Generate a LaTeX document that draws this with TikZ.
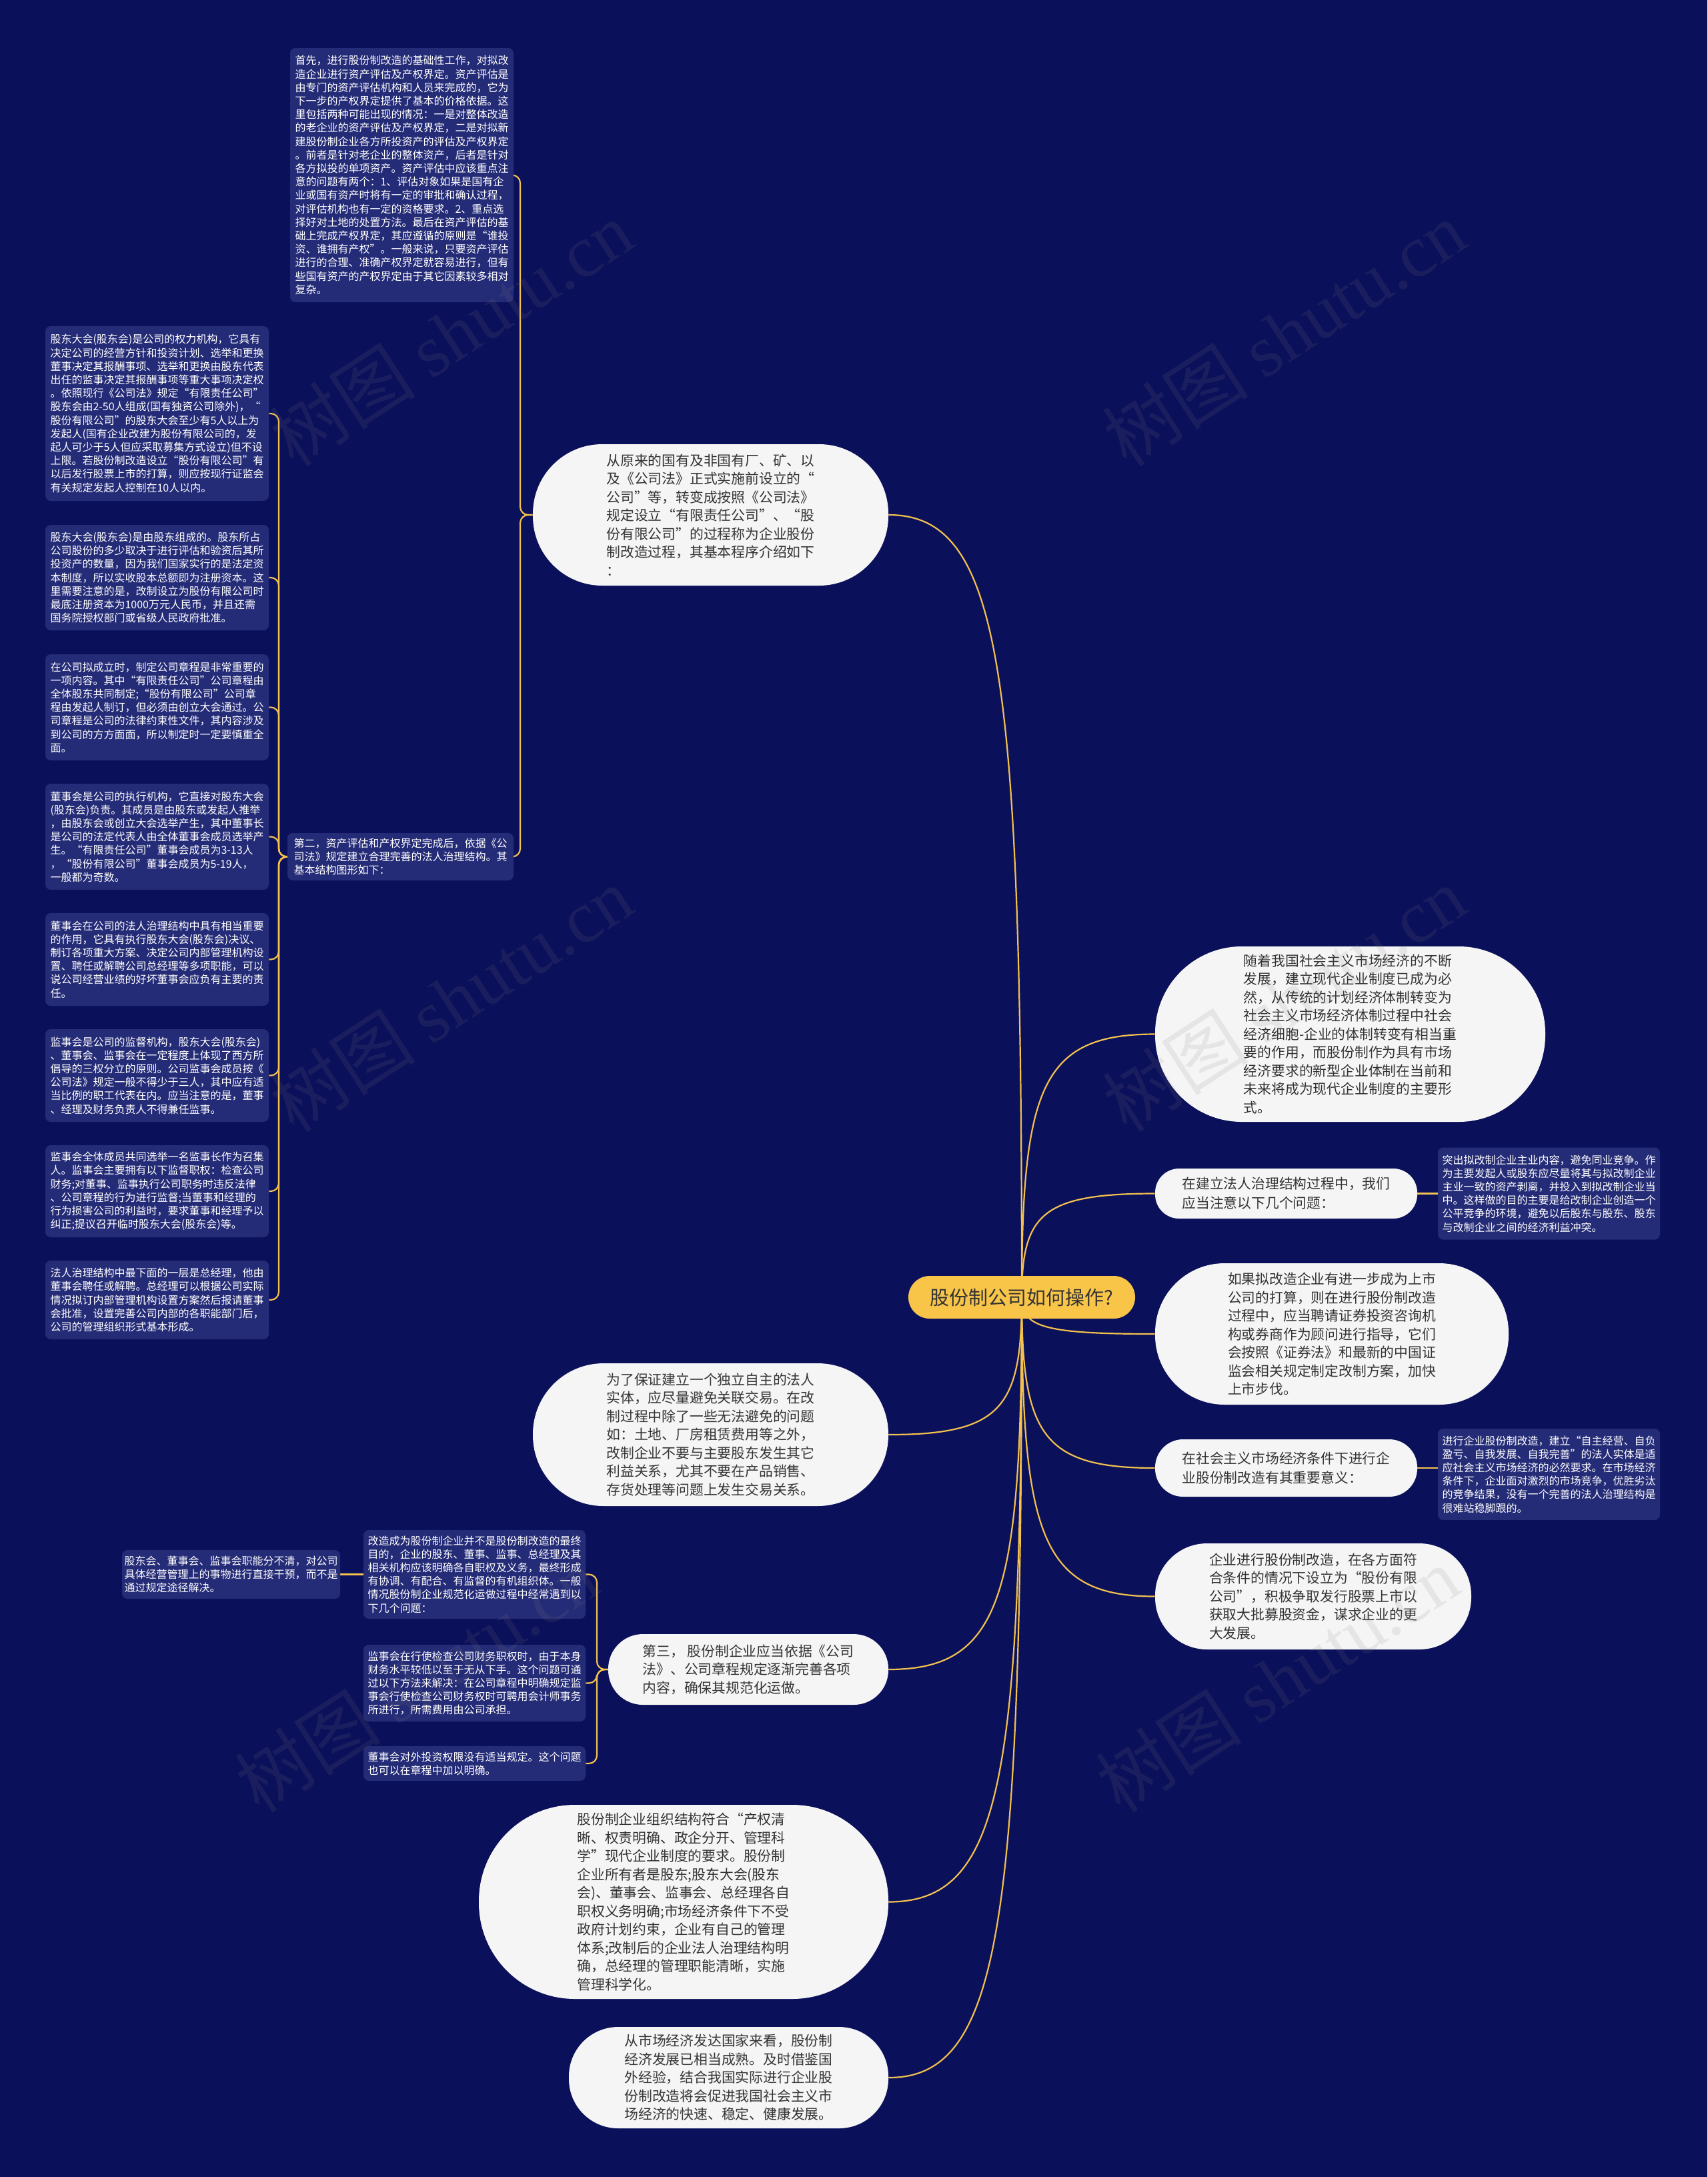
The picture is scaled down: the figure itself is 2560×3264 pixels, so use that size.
\documentclass[tikz,border=0pt]{standalone}
\usepackage{fontspec}
\setmainfont{Noto Sans CJK SC}
\newfontfamily\wmlatin{Liberation Serif}
\usetikzlibrary{calc}
\definecolor{bgc}{HTML}{0B105A}
\definecolor{boxc}{HTML}{252C77}
\definecolor{gold}{HTML}{F2C14E}
\definecolor{rootc}{HTML}{F8C549}
\definecolor{pillc}{HTML}{F5F5F5}
\definecolor{inkc}{HTML}{333333}
\pgfdeclarelayer{bg}
\pgfsetlayers{bg,main}
\begin{document}
\begin{tikzpicture}[x={(0.5pt,0)}, y={(0,-0.5pt)},
  dbox/.style={fill=boxc, rounded corners=4pt, text=white, align=left, inner sep=0pt,
    minimum width=167pt, font=\fontsize{8pt}{10.1pt}\selectfont},
  pill/.style={fill=pillc, text=inkc, align=left, inner sep=0pt,
    font=\fontsize{10.4pt}{13.75pt}\selectfont},
  conn/.style={draw=gold, line width=1.1pt},
  brace/.style={draw=gold, line width=1.1pt, rounded corners=6pt},
  wm/.style={text=gray, opacity=0.13, font=\fontsize{55pt}{60pt}\selectfont, rotate=33}]

\useasboundingbox (0,0) rectangle (2560,3264);

% ---------- root ----------
\node[fill=rootc, text=inkc, rounded corners=16pt, minimum width=170pt, minimum height=32pt,
  inner sep=0pt, font=\fontsize{14.5pt}{16pt}\selectfont] (root) at (1532,1945) {股份制公司如何操作?};

% ---------- right side ----------
\node[pill, minimum width=292.5pt, minimum height=131.5pt, rounded corners=65pt] (r1) at (2024.5,1550.5)
{随着我国社会主义市场经济的不断\\发展，建立现代企业制度已成为必\\然，从传统的计划经济体制转变为\\社会主义市场经济体制过程中社会\\经济细胞-企业的体制转变有相当重\\要的作用，而股份制作为具有市场\\经济要求的新型企业体制在当前和\\未来将成为现代企业制度的主要形\\式。};

\node[pill, minimum width=196.5pt, minimum height=37.5pt, rounded corners=18pt,
  font=\fontsize{10.4pt}{14.5pt}\selectfont] (r2) at (1928.5,1789.5)
{在建立法人治理结构过程中，我们\\应当注意以下几个问题：};

\node[dbox, minimum width=166.5pt, minimum height=69pt] (r2c) at (2322.5,1789.5)
{突出拟改制企业主业内容，避免同业竞争。作\\为主要发起人或股东应尽量将其与拟改制企业\\主业一致的资产剥离，并投入到拟改制企业当\\中。这样做的目的主要是给改制企业创造一个\\公平竞争的环境，避免以后股东与股东、股东\\与改制企业之间的经济利益冲突。};

\node[pill, minimum width=265pt, minimum height=106pt, rounded corners=52pt] (r3) at (1997,2000)
{如果拟改造企业有进一步成为上市\\公司的打算，则在进行股份制改造\\过程中，应当聘请证券投资咨询机\\构或券商作为顾问进行指导，它们\\会按照《证券法》和最新的中国证\\监会相关规定制定改制方案，加快\\上市步伐。};

\node[pill, minimum width=196.5pt, minimum height=43pt, rounded corners=21pt,
  font=\fontsize{10.4pt}{14.5pt}\selectfont] (r4) at (1928.5,2201)
{在社会主义市场经济条件下进行企\\业股份制改造有其重要意义：};

\node[dbox, minimum width=166.5pt, minimum height=68.5pt] (r4c) at (2322.5,2210.5)
{进行企业股份制改造，建立“自主经营、自负\\盈亏、自我发展、自我完善”的法人实体是适\\应社会主义市场经济的必然要求。在市场经济\\条件下，企业面对激烈的市场竞争，优胜劣汰\\的竞争结果，没有一个完善的法人治理结构是\\很难站稳脚跟的。};

\node[pill, minimum width=237pt, minimum height=79.5pt, rounded corners=39pt] (r5) at (1969,2393.5)
{企业进行股份制改造，在各方面符\\合条件的情况下设立为“股份有限\\公司”，积极争取发行股票上市以\\获取大批募股资金，谋求企业的更\\大发展。};

% ---------- left side ----------
\node[pill, minimum width=266.5pt, minimum height=106pt, rounded corners=52pt] (l1) at (1065.5,772)
{从原来的国有及非国有厂、矿、以\\及《公司法》正式实施前设立的“\\公司”等，转变成按照《公司法》\\规定设立“有限责任公司”、“股\\份有限公司”的过程称为企业股份\\制改造过程，其基本程序介绍如下\\：};

\node[dbox, minimum width=167.5pt, minimum height=190.5pt] (t1) at (602.5,262.5)
{首先，进行股份制改造的基础性工作，对拟改\\造企业进行资产评估及产权界定。资产评估是\\由专门的资产评估机构和人员来完成的，它为\\下一步的产权界定提供了基本的价格依据。这\\里包括两种可能出现的情况：一是对整体改造\\的老企业的资产评估及产权界定，二是对拟新\\建股份制企业各方所投资产的评估及产权界定\\。前者是针对老企业的整体资产，后者是针对\\各方拟投的单项资产。资产评估中应该重点注\\意的问题有两个：1、评估对象如果是国有企\\业或国有资产时将有一定的审批和确认过程，\\对评估机构也有一定的资格要求。2、重点选\\择好对土地的处置方法。最后在资产评估的基\\础上完成产权界定，其应遵循的原则是“谁投\\资、谁拥有产权”。一般来说，只要资产评估\\进行的合理、准确产权界定就容易进行，但有\\些国有资产的产权界定由于其它因素较多相对\\复杂。};

\node[dbox, minimum width=169.5pt, minimum height=35.5pt] (t2) at (600.5,1284.5)
{第二，资产评估和产权界定完成后，依据《公\\司法》规定建立合理完善的法人治理结构。其\\基本结构图形如下：};

\node[dbox, minimum width=167.5pt, minimum height=131pt] (b1) at (235.5,620)
{股东大会(股东会)是公司的权力机构，它具有\\决定公司的经营方针和投资计划、选举和更换\\董事决定其报酬事项、选举和更换由股东代表\\出任的监事决定其报酬事项等重大事项决定权\\。依照现行《公司法》规定“有限责任公司”\\股东会由2-50人组成(国有独资公司除外)，“\\股份有限公司”的股东大会至少有5人以上为\\发起人(国有企业改建为股份有限公司的，发\\起人可少于5人但应采取募集方式设立)但不设\\上限。若股份制改造设立“股份有限公司”有\\以后发行股票上市的打算，则应按现行证监会\\有关规定发起人控制在10人以内。};

\node[dbox, minimum width=167.5pt, minimum height=79pt] (b2) at (235.5,866)
{股东大会(股东会)是由股东组成的。股东所占\\公司股份的多少取决于进行评估和验资后其所\\投资产的数量，因为我们国家实行的是法定资\\本制度，所以实收股本总额即为注册资本。这\\里需要注意的是，改制设立为股份有限公司时\\最底注册资本为1000万元人民币，并且还需\\国务院授权部门或省级人民政府批准。};

\node[dbox, minimum width=167.5pt, minimum height=79.5pt] (b3) at (235.5,1060.5)
{在公司拟成立时，制定公司章程是非常重要的\\一项内容。其中“有限责任公司”公司章程由\\全体股东共同制定;“股份有限公司”公司章\\程由发起人制订，但必须由创立大会通过。公\\司章程是公司的法律约束性文件，其内容涉及\\到公司的方方面面，所以制定时一定要慎重全\\面。};

\node[dbox, minimum width=167.5pt, minimum height=79.5pt] (b4) at (235.5,1254.5)
{董事会是公司的执行机构，它直接对股东大会\\(股东会)负责。其成员是由股东或发起人推举\\，由股东会或创立大会选举产生，其中董事长\\是公司的法定代表人由全体董事会成员选举产\\生。“有限责任公司”董事会成员为3-13人\\，“股份有限公司”董事会成员为5-19人，\\一般都为奇数。};

\node[dbox, minimum width=167.5pt, minimum height=69.5pt] (b5) at (235.5,1438.5)
{董事会在公司的法人治理结构中具有相当重要\\的作用，它具有执行股东大会(股东会)决议、\\制订各项重大方案、决定公司内部管理机构设\\置、聘任或解聘公司总经理等多项职能，可以\\说公司经营业绩的好坏董事会应负有主要的责\\任。};

\node[dbox, minimum width=167.5pt, minimum height=69.5pt] (b6) at (235.5,1612.5)
{监事会是公司的监督机构，股东大会(股东会)\\、董事会、监事会在一定程度上体现了西方所\\倡导的三权分立的原则。公司监事会成员按《\\公司法》规定一般不得少于三人，其中应有适\\当比例的职工代表在内。应当注意的是，董事\\、经理及财务负责人不得兼任监事。};

\node[dbox, minimum width=167.5pt, minimum height=69pt] (b7) at (235.5,1786)
{监事会全体成员共同选举一名监事长作为召集\\人。监事会主要拥有以下监督职权：检查公司\\财务;对董事、监事执行公司职务时违反法律\\、公司章程的行为进行监督;当董事和经理的\\行为损害公司的利益时，要求董事和经理予以\\纠正;提议召开临时股东大会(股东会)等。};

\node[dbox, minimum width=167.5pt, minimum height=59pt] (b8) at (235.5,1949)
{法人治理结构中最下面的一层是总经理，他由\\董事会聘任或解聘。总经理可以根据公司实际\\情况拟订内部管理机构设置方案然后报请董事\\会批准，设置完善公司内部的各职能部门后，\\公司的管理组织形式基本形成。};

\node[pill, minimum width=266.5pt, minimum height=107pt, rounded corners=53pt] (l2) at (1065.5,2151)
{为了保证建立一个独立自主的法人\\实体，应尽量避免关联交易。在改\\制过程中除了一些无法避免的问题\\如：土地、厂房租赁费用等之外，\\改制企业不要与主要股东发生其它\\利益关系，尤其不要在产品销售、\\存货处理等问题上发生交易关系。};

\node[pill, minimum width=210pt, minimum height=53pt, rounded corners=26pt] (l3) at (1122,2503)
{第三， 股份制企业应当依据《公司\\法》、公司章程规定逐渐完善各项\\内容，确保其规范化运做。};

\node[dbox, minimum width=166.5pt, minimum height=66.5pt] (c1) at (711.5,2360.5)
{改造成为股份制企业并不是股份制改造的最终\\目的，企业的股东、董事、监事、总经理及其\\相关机构应该明确各自职权及义务，最终形成\\有协调、有配合、有监督的有机组织体。一般\\情况股份制企业规范化运做过程中经常遇到以\\下几个问题：};

\node[dbox, minimum width=166.5pt, minimum height=57.5pt] (c2) at (711.5,2523.5)
{监事会在行使检查公司财务职权时，由于本身\\财务水平较低以至于无从下手。这个问题可通\\过以下方法来解决：在公司章程中明确规定监\\事会行使检查公司财务权时可聘用会计师事务\\所进行，所需费用由公司承担。};

\node[dbox, minimum width=166.5pt, minimum height=26pt] (c3) at (711.5,2644)
{董事会对外投资权限没有适当规定。这个问题\\也可以在章程中加以明确。};

\node[dbox, minimum width=163.5pt, minimum height=36.5pt] (d1) at (346.5,2360.5)
{股东会、董事会、监事会职能分不清，对公司\\具体经营管理上的事物进行直接干预，而不是\\通过规定途径解决。};

\node[pill, minimum width=307pt, minimum height=145.5pt, rounded corners=72pt] (l4) at (1025,2851.5)
{股份制企业组织结构符合“产权清\\晰、权责明确、政企分开、管理科\\学”现代企业制度的要求。股份制\\企业所有者是股东;股东大会(股东\\会)、董事会、监事会、总经理各自\\职权义务明确;市场经济条件下不受\\政府计划约束，企业有自己的管理\\体系;改制后的企业法人治理结构明\\确，总经理的管理职能清晰，实施\\管理科学化。};

\node[pill, minimum width=239.5pt, minimum height=76pt, rounded corners=37pt] (l5) at (1092.5,3115)
{从市场经济发达国家来看，股份制\\经济发展已相当成熟。及时借鉴国\\外经验，结合我国实际进行企业股\\份制改造将会促进我国社会主义市\\场经济的快速、稳定、健康发展。};

% junction coordinates for brackets
\coordinate (j1) at (780,772);
\coordinate (j2) at (418,1284.5);
\coordinate (j3) at (895,2503);

% ---------- connectors (background layer) ----------
\begin{pgfonlayer}{bg}
\fill[bgc] (0,0) rectangle (2560,3264);
\foreach \c in {r1,r2,r3,r4,r5}{
  \draw[conn] (root.center) .. controls ($(root.center)!0.8!(root.center |- \c.west)$)
    and ($(root.center |- \c.west)!0.15!(\c.west)$) .. (\c.west);
}
\foreach \c in {l1,l2,l3,l4,l5}{
  \draw[conn] (root.center) .. controls ($(root.center)!0.8!(root.center |- \c.east)$)
    and ($(root.center |- \c.east)!0.15!(\c.east)$) .. (\c.east);
}
\draw[conn] (r2.east) -- (r2c.west);
\draw[conn] (r4.east) -- (r4c.west |- r4.east);
\foreach \c in {t1,t2}{ \draw[brace] (l1.west) -- (j1) |- (\c.east); }
\foreach \c in {b1,b2,b3,b4,b5,b6,b7,b8}{ \draw[brace] (t2.west) -- (j2) |- (\c.east); }
\foreach \c in {c1,c2,c3}{ \draw[brace] (l3.west) -- (j3) |- (\c.east); }
\draw[conn] (c1.west) -- (d1.east);
\end{pgfonlayer}

% ---------- watermark ----------
\foreach \p in {(676,500),(1925,500),(676,1498),(1925,1498),(624,2518),(1915,2518)}{
  \node[wm] at \p {树图 {\wmlatin shutu.cn}};
}
\end{tikzpicture}
\end{document}
